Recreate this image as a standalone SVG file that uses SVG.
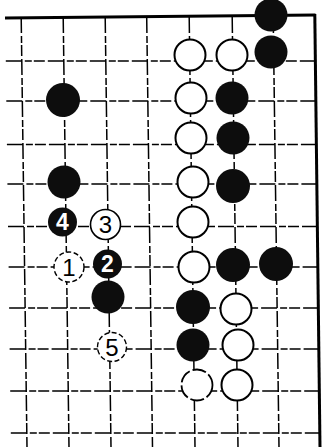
<svg xmlns="http://www.w3.org/2000/svg" width="322" height="447" viewBox="0 0 322 447">
<style>
.g{stroke:#000;stroke-width:1.5;fill:none;stroke-dasharray:16 3 7 2 11 3}
.e{stroke:#000;stroke-width:3;fill:none}
.b{fill:#0d0d0d}
.w{fill:#fff;stroke:#000;stroke-width:2}
.wf{fill:#fff;stroke:#000;stroke-width:1.4;stroke-dasharray:5 2.5}
.tw{font-family:"Liberation Sans",Arial,sans-serif;font-size:23px;font-weight:bold;fill:#fff;text-anchor:middle}
.tb{font-family:"Liberation Sans",Arial,sans-serif;font-size:24px;fill:#000;text-anchor:middle}
</style>
<rect width="322" height="447" fill="#fff"/>
<g id="grid">
<line class="g" x1="21.2" y1="17" x2="27" y2="447"/>
<line class="g" x1="63.2" y1="17" x2="69" y2="447"/>
<line class="g" x1="105.2" y1="17" x2="111" y2="447"/>
<line class="g" x1="146.7" y1="17" x2="152.5" y2="447"/>
<line class="g" x1="189.2" y1="17" x2="195" y2="447"/>
<line class="g" x1="232.2" y1="17" x2="238" y2="447"/>
<line class="g" x1="273.2" y1="17" x2="279" y2="447"/>
<line class="g" x1="5.8" y1="61" x2="315" y2="61"/>
<line class="g" x1="6.3" y1="101" x2="315" y2="101"/>
<line class="g" x1="6.9" y1="144.5" x2="316" y2="144.5"/>
<line class="g" x1="7.4" y1="184" x2="316" y2="184"/>
<line class="g" x1="8" y1="226.5" x2="316" y2="226.5"/>
<line class="g" x1="8.6" y1="267" x2="317" y2="267"/>
<line class="g" x1="9.1" y1="308" x2="317" y2="308"/>
<line class="g" x1="9.6" y1="349" x2="318" y2="349"/>
<line class="g" x1="10.2" y1="391" x2="318" y2="391"/>
<line class="g" x1="10.8" y1="433" x2="319" y2="433"/>
<line class="e" x1="5" y1="18" x2="315.5" y2="15"/>
<line class="e" x1="314.8" y1="14" x2="320" y2="447"/>
</g>
<g id="s-b-6-0"><circle class="b" cx="271" cy="15" r="16.5"/></g>
<g id="s-w-4-1"><circle class="w" cx="190" cy="55" r="15.5"/></g>
<g id="s-w-5-1"><circle class="w" cx="232" cy="55" r="15.5"/></g>
<g id="s-b-6-1"><circle class="b" cx="271" cy="52" r="16.5"/></g>
<g id="s-b-1-2"><circle class="b" cx="63" cy="100" r="17"/></g>
<g id="s-w-4-2"><circle class="w" cx="191" cy="98" r="15.5"/></g>
<g id="s-b-5-2"><circle class="b" cx="232" cy="98" r="16.5"/></g>
<g id="s-w-4-3"><circle class="w" cx="191" cy="138" r="15.5"/></g>
<g id="s-b-5-3"><circle class="b" cx="233" cy="138" r="16.5"/></g>
<g id="s-b-1-4"><circle class="b" cx="64" cy="182" r="16.5"/></g>
<g id="s-w-4-4"><circle class="w" cx="193" cy="182" r="15.5"/></g>
<g id="s-b-5-4"><circle class="b" cx="233" cy="186" r="17"/></g>
<g id="m4"><circle class="b" cx="62.5" cy="222" r="14.5"/><text class="tw" x="62.5" y="230">4</text></g>
<g id="m3"><circle class="w" cx="105.5" cy="224.5" r="15" style="stroke-width:1.6"/><text class="tb" x="105.5" y="233">3</text></g>
<g id="s-w-4-5"><circle class="w" cx="193" cy="222" r="15.5"/></g>
<g id="m1"><circle class="wf" cx="69" cy="267" r="15"/><text class="tb" x="69" y="275.5">1</text></g>
<g id="m2"><circle class="b" cx="107.5" cy="264" r="14.5"/><text class="tw" x="107.5" y="272">2</text></g>
<g id="s-w-4-6"><circle class="w" cx="194" cy="267" r="15.5"/></g>
<g id="s-b-5-6"><circle class="b" cx="233" cy="265" r="17"/></g>
<g id="s-b-6-6"><circle class="b" cx="276" cy="264" r="17"/></g>
<g id="s-b-2-7"><circle class="b" cx="108" cy="297" r="16.5"/></g>
<g id="s-b-4-7"><circle class="b" cx="193" cy="307" r="17"/></g>
<g id="s-w-5-7"><circle class="w" cx="236" cy="309" r="15.5"/></g>
<g id="m5"><circle class="wf" cx="112" cy="347" r="14.5"/><text class="tb" x="112" y="355.5">5</text></g>
<g id="s-b-4-8"><circle class="b" cx="193" cy="345" r="16.5"/></g>
<g id="s-w-5-8"><circle class="w" cx="238" cy="345" r="15.5"/></g>
<g id="s-w-4-9"><circle class="w" cx="197" cy="385" r="15.5" style="stroke-width:1.8;stroke-dasharray:14 3"/></g>
<g id="s-w-5-9"><circle class="w" cx="237" cy="385" r="15.5"/></g>
</svg>
